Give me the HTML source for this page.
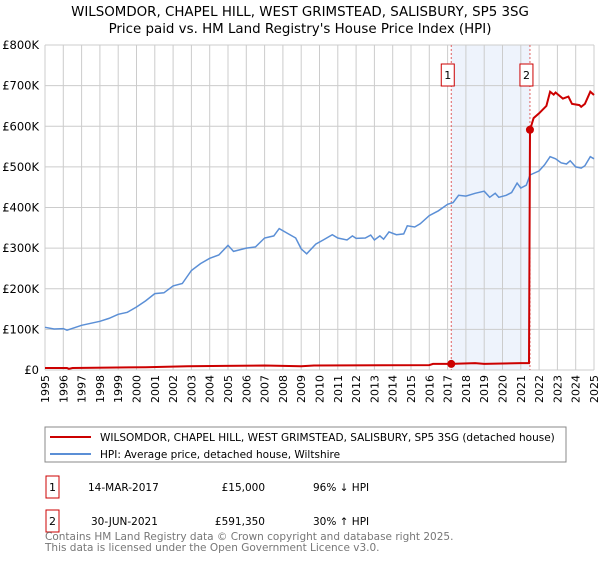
<!DOCTYPE html>
<html><head><meta charset="utf-8"><style>
body{margin:0;background:#fff;font-family:"Liberation Sans",sans-serif}
svg text{font-family:"DejaVu Sans","Liberation Sans",sans-serif}
</style></head><body>
<svg id="c" width="600" height="560" xmlns="http://www.w3.org/2000/svg">
<text x="300" y="16" text-anchor="middle" font-size="13.4">WILSOMDOR, CHAPEL HILL, WEST GRIMSTEAD, SALISBURY, SP5 3SG</text>
<text x="300" y="33" text-anchor="middle" font-size="13.4">Price paid vs. HM Land Registry's House Price Index (HPI)</text>
<g id="grid"></g><g id="marks"></g><g id="axes"></g>
<rect x="45" y="427" width="521" height="35" fill="#fff" stroke="#888"/>
<line x1="50" y1="437" x2="91" y2="437" stroke="#cc0000" stroke-width="2"/>
<text x="100" y="441" font-size="10.5">WILSOMDOR, CHAPEL HILL, WEST GRIMSTEAD, SALISBURY, SP5 3SG (detached house)</text>
<line x1="50" y1="454" x2="91" y2="454" stroke="#5b8fd6" stroke-width="2"/>
<text x="100" y="458" font-size="10.5">HPI: Average price, detached house, Wiltshire</text>
<rect x="46" y="476" width="13" height="22" fill="#fff" stroke="#cc0000"/>
<text x="52.5" y="491" text-anchor="middle" font-size="11">1</text>
<text x="88" y="491" font-size="10.5">14-MAR-2017</text>
<text x="265" y="491" text-anchor="end" font-size="10.5">£15,000</text>
<text x="313" y="491" font-size="10.5">96% ↓ HPI</text>
<rect x="46" y="510" width="13" height="22" fill="#fff" stroke="#cc0000"/>
<text x="52.5" y="525" text-anchor="middle" font-size="11">2</text>
<text x="91" y="525" font-size="10.5">30-JUN-2021</text>
<text x="265" y="525" text-anchor="end" font-size="10.5">£591,350</text>
<text x="313" y="525" font-size="10.5">30% ↑ HPI</text>
<text x="45" y="540" font-size="10.5" fill="#777">Contains HM Land Registry data © Crown copyright and database right 2025.</text>
<text x="45" y="551" font-size="10.5" fill="#777">This data is licensed under the Open Government Licence v3.0.</text>
</svg>
<script>
const years=[1995,1996,1997,1998,1999,2000,2001,2002,2003,2004,2005,2006,2007,2008,2009,2010,2011,2012,2013,2014,2015,2016,2017,2018,2019,2020,2021,2022,2023,2024,2025];
const yTicks=[0,100,200,300,400,500,600,700,800];
const yTickLabels=["£0","£100K","£200K","£300K","£400K","£500K","£600K","£700K","£800K"];
const hpiX=[1995,1995.5,1996,1996.2,1997,1998,1998.5,1999,1999.5,2000,2000.5,2001,2001.5,2002,2002.5,2003,2003.5,2004,2004.5,2005,2005.3,2006,2006.5,2007,2007.5,2007.8,2008.3,2008.7,2009,2009.3,2009.8,2010.2,2010.7,2011,2011.5,2011.8,2012,2012.5,2012.8,2013,2013.3,2013.5,2013.8,2014.2,2014.6,2014.8,2015.2,2015.5,2016,2016.5,2017,2017.3,2017.6,2018,2018.5,2019,2019.3,2019.6,2019.8,2020.2,2020.5,2020.8,2021,2021.3,2021.5,2022,2022.3,2022.6,2022.9,2023.2,2023.5,2023.7,2024,2024.3,2024.5,2024.8,2025];
const hpiV=[105,101,102,98,110,120,127,137,142,155,170,188,190,207,213,245,262,275,283,307,292,300,303,325,330,348,335,325,298,286,310,320,333,325,320,330,324,325,332,320,330,322,340,333,335,355,352,360,380,392,408,412,430,428,435,440,425,435,425,430,437,460,448,455,480,490,505,525,520,510,507,515,500,497,503,525,520];
const redX=[1995,1996.2,1996.3,1996.5,2000.5,2002.8,2004.8,2007,2009,2009.7,2016,2016.2,2017.2,2018.5,2019,2021,2021.45,2021.5,2021.7,2022,2022.4,2022.6,2022.8,2022.9,2023.3,2023.6,2023.8,2024.2,2024.3,2024.5,2024.8,2025];
const redV=[5,5,3,5,7,9,10,11,9,11,12,15,15,17,15,17,17,591,620,632,650,685,678,683,668,673,655,652,648,655,685,677];
const sales=[{n:"1",x:2017.2,v:15},{n:"2",x:2021.5,v:591.35}];
const X0=45,X1=594,Y0=370,Y1=45;
const xs=y=>X0+(y-1995)/30*(X1-X0);
const ys=v=>Y0-v/800*(Y0-Y1);
const NS="http://www.w3.org/2000/svg";
function mk(p,t,a){const e=document.createElementNS(NS,t);for(const k in a)e.setAttribute(k,a[k]);p.appendChild(e);return e;}
const grid=document.getElementById('grid'),marks=document.getElementById('marks'),axes=document.getElementById('axes');
const sh=mk(grid,'rect',{x:xs(sales[0].x),y:Y1,width:xs(sales[1].x)-xs(sales[0].x),height:Y0-Y1,fill:'#eef3fc'});


years.forEach(y=>{const l=mk(grid,'line',{x1:xs(y),x2:xs(y),y1:Y1,y2:Y0,stroke:'#ccc'});


const t=mk(axes,'text',{x:xs(y)+4,y:375,'font-size':11,'text-anchor':'end',transform:`rotate(-90 ${xs(y)+4} 375)`});t.textContent=y;

});
yTicks.forEach((v,i)=>{const l=mk(grid,'line',{x1:X0,x2:X1,y1:ys(v),y2:ys(v),stroke:'#ccc'});


const t=mk(axes,'text',{x:39,y:ys(v)+4,'font-size':11.5,'text-anchor':'end'});t.textContent=yTickLabels[i];

});
sales.forEach(s=>{const l=mk(grid,'line',{x1:xs(s.x),x2:xs(s.x),y1:Y1,y2:Y0,stroke:'#e06060','stroke-dasharray':'2,2'});


const r=mk(axes,'rect',{x:xs(s.x)-10,y:64,width:13,height:22,fill:'#fff',stroke:'#cc0000'});


const t=mk(axes,'text',{x:xs(s.x)-3.5,y:79,'font-size':11,'text-anchor':'middle'});t.textContent=s.n;

});
const hp=mk(marks,'path',{d:hpiX.map((x,i)=>(i?'L':'M')+xs(x).toFixed(1)+','+ys(hpiV[i]).toFixed(1)).join(''),fill:'none',stroke:'#5b8fd6','stroke-width':1.5});


const rp=mk(marks,'path',{d:redX.map((x,i)=>(i?'L':'M')+xs(x).toFixed(1)+','+ys(redV[i]).toFixed(1)).join(''),fill:'none',stroke:'#cc0000','stroke-width':2});


sales.forEach(s=>{const c=mk(marks,'circle',{cx:xs(s.x),cy:ys(s.v),r:4,fill:'#cc0000'});

});
</script>
</body></html>
